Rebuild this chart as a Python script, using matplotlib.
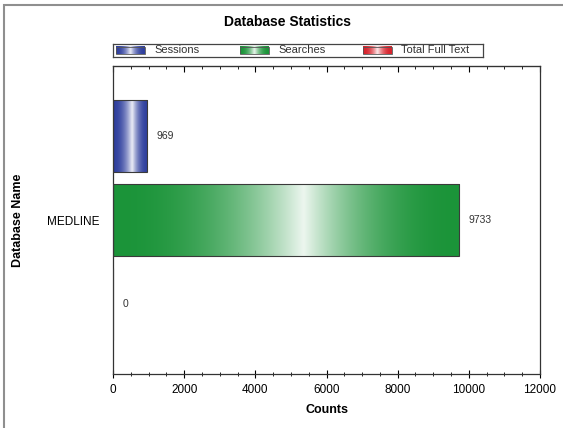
import numpy as np
import matplotlib.pyplot as plt
from matplotlib.colors import to_rgb
from matplotlib.patches import Rectangle
from matplotlib.ticker import MultipleLocator

plt.rcParams['font.family'] = ['Liberation Sans', 'DejaVu Sans']

# data
database = "MEDLINE"
series_names = ["Sessions", "Searches", "Total Full Text"]
series_values = [969, 9733, 0]
series_colors = ["#2f3f9e", "#1b9439", "#d8232c"]
x_ticks = [0, 2000, 4000, 6000, 8000, 10000, 12000]


def gradient_rgba(color, n=256, peak=0.55):
    # dark at both ends, almost white a bit past the middle
    t = np.linspace(0, 1, n)
    w = np.where(t < peak, t / peak, (1 - t) / (1 - peak))
    w = np.clip(w, 0, 1) ** 2.2 * 0.92
    c = np.array(to_rgb(color))
    rgb = c[None, :] * (1 - w[:, None]) + w[:, None]
    return rgb[None, :, :]


fig = plt.figure(figsize=(5.63, 4.28), dpi=100)
W, H = 563, 428
ax = fig.add_axes([113 / W, 1 - 374 / H, (540 - 113) / W, (374 - 66) / H])

positions = [1, 0, -1]
bar_h = 0.85
for pos, val, col in zip(positions, series_values, series_colors):
    if val > 0:
        ax.imshow(gradient_rgba(col), aspect="auto", interpolation="bicubic",
                  extent=(0, val, pos - bar_h / 2, pos + bar_h / 2), zorder=2)
    ax.barh(pos, val, height=bar_h, facecolor="none", edgecolor="#3a3a3a",
            linewidth=0.8, zorder=3)
    ax.text(val + 260, pos, str(val), va="center", ha="left",
            fontsize=7.5, color="#333333")

ax.set_xlim(0, 12000)
ax.set_ylim(-1.83, 1.83)
ax.set_xticks(x_ticks)
ax.xaxis.set_minor_locator(MultipleLocator(500))
ax.tick_params(axis="x", which="major", direction="inout", length=6, labelsize=8.5, pad=4)
ax.tick_params(axis="x", which="minor", direction="inout", length=3.5)
ax.set_yticks([0])
ax.set_yticklabels([database], fontsize=8.5)
ax.tick_params(axis="y", length=0, pad=10)
for s in ax.spines.values():
    s.set_color("#333333")
    s.set_linewidth(0.9)

top = ax.secondary_xaxis("top")
top.set_xticks(x_ticks)
top.xaxis.set_minor_locator(MultipleLocator(500))
top.tick_params(axis="x", which="major", direction="in", length=4, labeltop=False)
top.tick_params(axis="x", which="minor", direction="in", length=2.5)
top.spines["top"].set_color("#333333")

ax.set_xlabel("Counts", fontsize=9, fontweight="bold", labelpad=6)
ax.set_ylabel("Database Name", fontsize=9, fontweight="bold", labelpad=16)

fig.text(287 / W, 1 - 22 / H, "Database Statistics", ha="center", va="center",
         fontsize=10, fontweight="bold")

# legend box above the plot
lg = fig.add_axes([113 / W, 1 - 57 / H, (483 - 113) / W, 13 / H])
lg.set_xlim(113, 483)
lg.set_ylim(0, 1)
lg.set_xticks([])
lg.set_yticks([])
for s in lg.spines.values():
    s.set_color("#444444")
    s.set_linewidth(0.9)
swatch_x = [116, 240, 363]
for sx, name, col in zip(swatch_x, series_names, series_colors):
    lg.imshow(gradient_rgba(col, peak=0.5), aspect="auto", interpolation="bicubic",
              extent=(sx, sx + 29, 0.22, 0.78))
    lg.add_patch(Rectangle((sx, 0.22), 29, 0.56, fill=False, edgecolor="#555555", lw=0.6))
    lg.text(sx + 38, 0.5, name, va="center", ha="left", fontsize=8, color="#333333")

# outer frame
fig.add_artist(Rectangle((4 / W, -0.1), 1.2, 1 - 5 / H + 0.1, transform=fig.transFigure,
                         fill=False, edgecolor="#8f8f8f", lw=1.5))

fig.savefig("out.png", dpi=100)
